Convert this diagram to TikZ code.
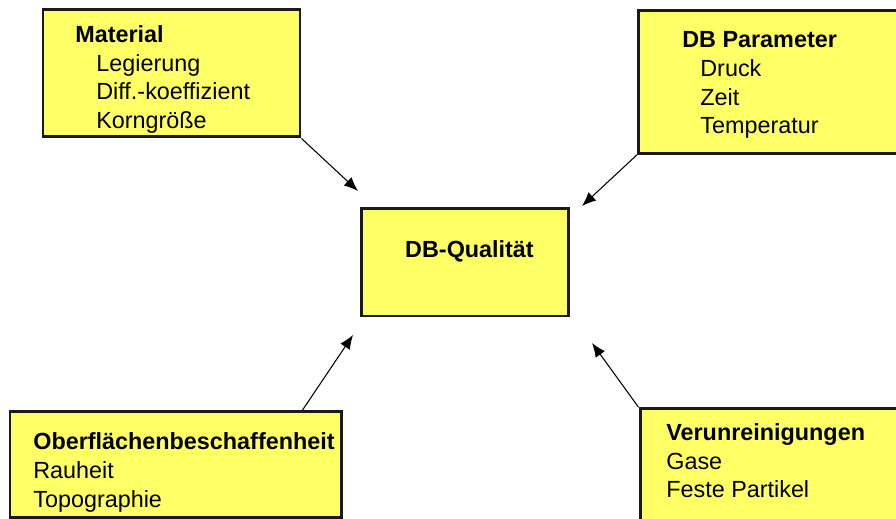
\documentclass[tikz,border=0pt]{standalone}
\usepackage{fontspec}
\setmainfont{Liberation Sans}
\usetikzlibrary{arrows.meta,fit}
\definecolor{boxyellow}{HTML}{FFFF66}
\definecolor{boxline}{HTML}{1A1A1A}

\tikzset{
 factor/.style={draw=boxline,fill=boxyellow,line width=1.7pt,inner sep=0pt},
 factortext/.style={anchor=north west,align=left,inner sep=0pt,font=\fontsize{13.3}{16.4}\selectfont},
 influence/.style={->,line width=0.6pt}
}

\begin{document}
\begin{tikzpicture}[x=0.02cm,y=-0.02cm,>={Latex[length=8pt,width=6.5pt]}]
\path[use as bounding box,clip] (0,0) rectangle (896,519);
\node[factor,fit={(43,10) (300,137)}] (material) {};
\node[factor,fit={(638.5,10.7) (905,153.3)}] (param) {};
\node[factor,fit={(361.3,208.7) (568.7,316)}] (quality) {};
\node[factor,fit={(10,411.7) (341.7,517.5)}] (surface) {};
\node[factor,fit={(640,408.7) (905,530)}] (dirt) {};
\node[factortext] (materialtext) at (75,25)
 {\textbf{Material}\\\hspace*{0.42cm}Legierung\\\hspace*{0.42cm}Diff.-koeffizient\\\hspace*{0.42cm}Korngröße};
\node[factortext] (paramtext) at (682,31)
 {\textbf{DB Parameter}\\\hspace*{0.36cm}Druck\\\hspace*{0.36cm}Zeit\\\hspace*{0.36cm}Temperatur};
\node[anchor=base,font=\fontsize{13.3}{16.4}\selectfont\bfseries] (qualitytext) at (469.5,258) {DB-Qualität};
\node[factortext] (surfacetext) at (33,432.5)
 {\textbf{Oberflächenbeschaffenheit}\\Rauheit\\Topographie};
\node[factortext] (dirttext) at (666,423)
 {\textbf{Verunreinigungen}\\Gase\\Feste Partikel};
\coordinate (materialtip) at (358,191);
\coordinate (paramtip) at (582,206);
\coordinate (surfacetip) at (353,335);
\coordinate (dirttip) at (592,343);
\draw[influence] (material.south east) -- (materialtip);
\draw[influence] (param.south west) -- (paramtip);
\draw[influence] ([xshift=5.88cm]surface.north west) -- (surfacetip);
\draw[influence] (dirt.north west) -- (dirttip);
\end{tikzpicture}
\end{document}
